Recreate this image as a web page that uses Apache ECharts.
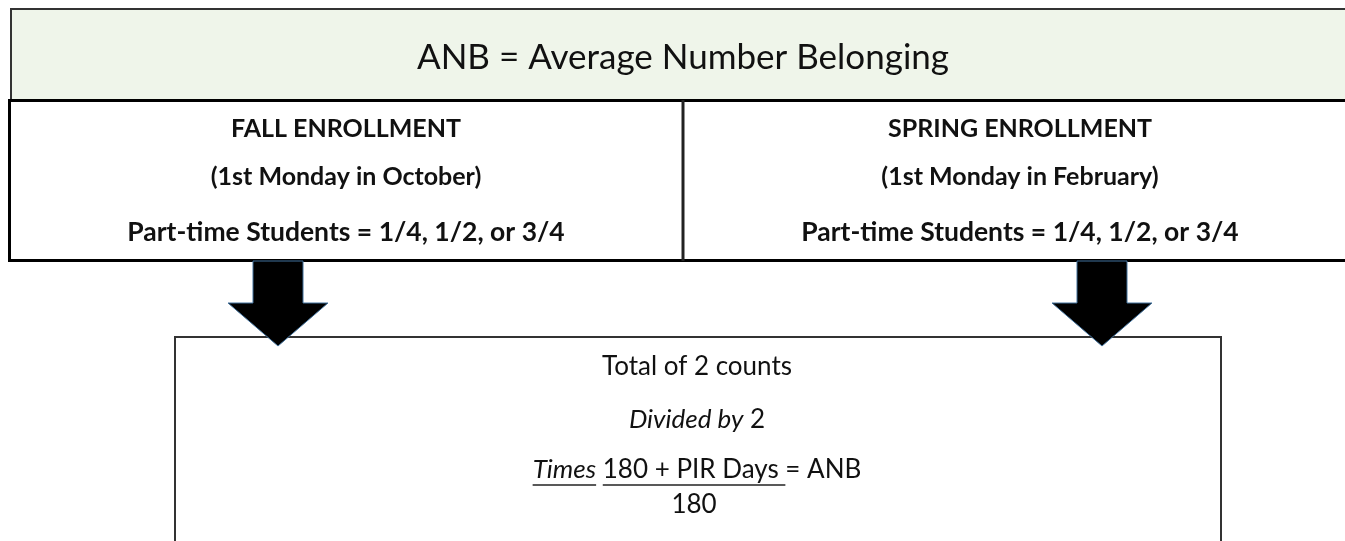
<!DOCTYPE html>
<html lang="en">
<head>
    <meta charset="UTF-8">
    <title>ANB</title>
    <style>
        html, body { margin: 0; padding: 0; background: #fff; }
    </style>
</head>
<body onload="setup()">
    <div id="Diagram" style="width: 1345px;height: 541px;"></div>
    <script src="https://cdn.jsdelivr.net/npm/echarts@6/dist/echarts.min.js"></script>
    <script>
        // texts of the diagram
        var titleText = 'ANB = Average Number Belonging'
        var fallLines = ['FALL ENROLLMENT', '(1st Monday in October)', 'Part-time Students = 1/4, 1/2, or 3/4']
        var springLines = ['SPRING ENROLLMENT', '(1st Monday in February)', 'Part-time Students = 1/4, 1/2, or 3/4']
        var totalLine = 'Total of 2 counts'
        var dividedParts = ['Divided by', ' 2']
        var formulaParts = ['Times', ' ', '180 + PIR Days ', '= ANB']
        var denominator = '180'

        var FONT = 'Lato, "Open Sans", sans-serif'
        var Diagram
        var ctx = document.createElement('canvas').getContext('2d')

        function measure(text, font) {
            ctx.font = font
            return ctx.measureText(text).width
        }

        function txt(text, x, y, font, align) {
            return {
                type: 'text',
                style: {
                    text: text, x: x, y: y, font: font, fill: '#111',
                    textAlign: align || 'center', textVerticalAlign: 'middle'
                }
            }
        }

        function hline(x1, x2, y, w) {
            return {
                type: 'line',
                shape: { x1: x1, y1: y, x2: x2, y2: y },
                style: { stroke: '#222', lineWidth: w || 1.5 }
            }
        }

        function arrow(cx, top) {
            return {
                type: 'polygon',
                shape: {
                    points: [[cx - 25, top], [cx + 25, top], [cx + 25, top + 42], [cx + 50, top + 42],
                        [cx, top + 85], [cx - 50, top + 42], [cx - 25, top + 42]]
                },
                style: { fill: '#000', stroke: '#41719C', lineWidth: 1 }
            }
        }

        function setup() {
            Diagram = echarts.init(document.getElementById('Diagram'))
            var els = []

            // header
            els.push({ type: 'rect', shape: { x: 11, y: 9, width: 1360, height: 91 },
                style: { fill: '#EFF5EA', stroke: '#333', lineWidth: 2 } })
            els.push(txt(titleText, 683, 58, '35px ' + FONT))

            // fall / spring boxes
            els.push({ type: 'rect', shape: { x: 9.5, y: 100.5, width: 1360, height: 160 },
                style: { fill: '#fff', stroke: '#000', lineWidth: 3 } })
            var div = hline(683, 683, 100, 3)
            div.shape.y2 = 261
            els.push(div)
            var rowY = [129, 177, 232]
            var bold = 'bold 25px ' + FONT
            var boldL = 'bold 26.5px ' + FONT
            fallLines.forEach(function (t, i) { els.push(txt(t, 346, rowY[i], i == 2 ? boldL : bold)) })
            springLines.forEach(function (t, i) { els.push(txt(t, 1020, rowY[i], i == 2 ? boldL : bold)) })

            // bottom box
            els.push({ type: 'rect', shape: { x: 175, y: 337, width: 1046, height: 230 },
                style: { fill: '#fff', stroke: '#333', lineWidth: 2 } })

            // arrows drawn above boxes
            els.push(arrow(278, 261))
            els.push(arrow(1102, 261))

            var reg = '26px ' + FONT
            var ital = 'italic 26px ' + FONT
            var cx = 697
            els.push(txt(totalLine, cx, 367, reg))

            // Divided by 2
            var w0 = measure(dividedParts[0], ital), w1 = measure(dividedParts[1], reg)
            var sx = cx - (w0 + w1) / 2
            els.push(txt(dividedParts[0], sx, 420, ital, 'left'))
            els.push(txt(dividedParts[1], sx + w0, 420, reg, 'left'))

            // Times 180 + PIR Days = ANB
            var fonts = [ital, reg, reg, reg]
            var widths = formulaParts.map(function (p, i) { return measure(p, fonts[i]) })
            var total = widths.reduce(function (a, b) { return a + b }, 0)
            var x = cx - total / 2
            var starts = []
            formulaParts.forEach(function (p, i) {
                starts.push(x)
                els.push(txt(p, x, 470, fonts[i], 'left'))
                x += widths[i]
            })
            els.push(hline(starts[0], starts[0] + widths[0], 485))
            els.push(hline(starts[2], starts[2] + widths[2], 485))
            els.push(txt(denominator, starts[2] + widths[2] / 2, 505, reg))

            Diagram.setOption({ animation: false, graphic: { elements: els } })
        }
    </script>
</body>
</html>
